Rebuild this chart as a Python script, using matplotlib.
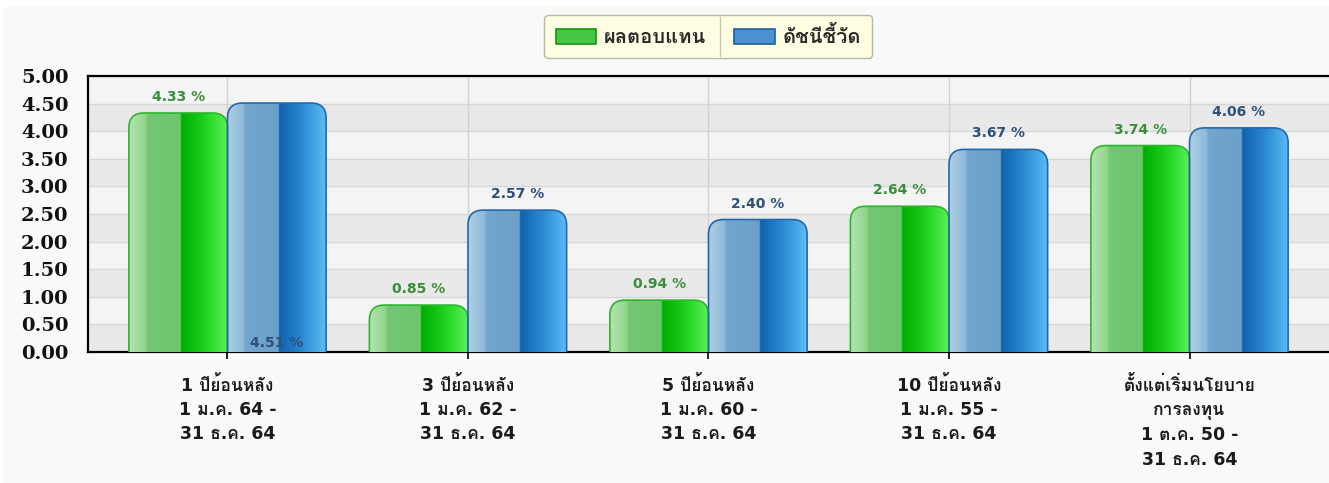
import numpy as np
import matplotlib
matplotlib.use('Agg')
import matplotlib.pyplot as plt
from matplotlib import font_manager
from matplotlib.ft2font import FT2Font
from matplotlib.patches import FancyBboxPatch, Patch, Rectangle
from matplotlib.lines import Line2D
from matplotlib.colors import LinearSegmentedColormap

categories = [
    '1 ปีย้อนหลัง\n1 ม.ค. 64 -\n31 ธ.ค. 64',
    '3 ปีย้อนหลัง\n1 ม.ค. 62 -\n31 ธ.ค. 64',
    '5 ปีย้อนหลัง\n1 ม.ค. 60 -\n31 ธ.ค. 64',
    '10 ปีย้อนหลัง\n1 ม.ค. 55 -\n31 ธ.ค. 64',
    'ตั้งแต่เริ่มนโยบาย\nการลงทุน\n1 ต.ค. 50 -\n31 ธ.ค. 64',
]
fund_returns = [4.33, 0.85, 0.94, 2.64, 3.74]
benchmark = [4.51, 2.57, 2.40, 3.67, 4.06]
series_names = ['ผลตอบแทน', 'ดัชนีชี้วัด']
yticks = [0.0, 0.5, 1.0, 1.5, 2.0, 2.5, 3.0, 3.5, 4.0, 4.5, 5.0]


def find_thai_font():
    # first installed font that can draw Thai
    for f in font_manager.fontManager.ttflist:
        try:
            if 0x0E1C in FT2Font(f.fname).get_charmap():
                return f.name
        except Exception:
            pass
    return 'DejaVu Sans'


thai = find_thai_font()
fam = ['DejaVu Sans', thai]

green_cmap = LinearSegmentedColormap.from_list('g', [
    (0.0, '#b6e4b2'), (0.17, '#8ed48a'), (0.18, '#74c874'), (0.52, '#6cc66c'),
    (0.53, '#00ad00'), (0.75, '#1ccf1c'), (1.0, '#58f458')])
blue_cmap = LinearSegmentedColormap.from_list('b', [
    (0.0, '#b0cfe6'), (0.17, '#8cb8d8'), (0.18, '#74a6cf'), (0.52, '#6aa0c9'),
    (0.53, '#0f62ac'), (0.75, '#2a88d0'), (1.0, '#5cbcf6')])


def gradient_bar(ax, rect, cmap, edge, px_x, px_y):
    x, w, h = rect.get_x(), rect.get_width(), rect.get_height()
    r = 15.0 / px_x
    box = FancyBboxPatch((x, -0.4), w, h + 0.4,
                         boxstyle=f'round,pad=0,rounding_size={r}',
                         mutation_aspect=px_x / px_y,
                         facecolor='none', edgecolor=edge, lw=1.2, zorder=4)
    ax.add_patch(box)
    img = ax.imshow(np.linspace(0, 1, 256).reshape(1, -1), cmap=cmap,
                    extent=(x, x + w, -0.4, h), aspect='auto', zorder=3,
                    interpolation='bilinear')
    img.set_clip_path(box)


fig = plt.figure(figsize=(13.29, 4.83), dpi=100)
fig.patch.set_facecolor('white')
fig.patches.append(Rectangle((3 / 1329, 0), 1, 1 - 7 / 483, transform=fig.transFigure,
                             facecolor='#f9f9f9', edgecolor='none', zorder=-10))

left, bottom = 88 / 1329, 1 - 352 / 483
ax = fig.add_axes([left, bottom, 1 - left, (352 - 76) / 483])
ax.set_facecolor('#f4f4f4')

x = np.arange(len(categories))
width = 0.41
xlim = (-0.58, 4.58)
ylim = (0, 5)
px_x = 1241 / (xlim[1] - xlim[0])
px_y = 276 / (ylim[1] - ylim[0])

# alternating bands and grid
for y0 in yticks[:-1:2]:
    ax.axhspan(y0, y0 + 0.5, color='#e9e9e9', zorder=0, lw=0)
for y0 in yticks[1:]:
    ax.axhline(y0, color='#d6d6d6', lw=1, zorder=1)
for xc in x:
    ax.axvline(xc, color='#d2d2d2', lw=1, zorder=1)

bars_g = ax.bar(x - width / 2, fund_returns, width, color='none', zorder=2)
bars_b = ax.bar(x + width / 2, benchmark, width, color='none', zorder=2)
for rect in bars_g:
    gradient_bar(ax, rect, green_cmap, '#2db52d', px_x, px_y)
for rect in bars_b:
    gradient_bar(ax, rect, blue_cmap, '#2468aa', px_x, px_y)

for i, v in enumerate(fund_returns):
    ax.annotate(f'{v:.2f} %', (x[i] - width / 2, v), xytext=(0, 11.5),
                textcoords='offset points', ha='center', va='center',
                fontsize=10, fontweight='bold', color='#3a8e3a', zorder=6)
for i, v in enumerate(benchmark):
    # the first benchmark label sits at the bottom of its bar in the original
    ypos = 0 if i == 0 else v
    off = 6.5 if i == 0 else 11.5
    ax.annotate(f'{v:.2f} %', (x[i] + width / 2, ypos), xytext=(0, off),
                textcoords='offset points', ha='center', va='center',
                fontsize=10, fontweight='bold', color='#2c5078', zorder=6)

ax.set_xlim(*xlim)
ax.set_ylim(*ylim)
ax.set_yticks(yticks)
ax.set_yticklabels([f'{t:.2f}' for t in yticks], fontfamily='DejaVu Serif',
                   fontweight='bold', fontsize=14, color='#111111')
ax.set_xticks(x)
ax.set_xticklabels(categories, fontfamily=fam, fontweight='bold', fontsize=12.5,
                   color='#1a1a1a', linespacing=1.45, va='top')
ax.tick_params(axis='y', length=0, pad=14)
ax.tick_params(axis='x', length=5, width=1.2, color='black', pad=12)

for s in ['left', 'bottom', 'top']:
    ax.spines[s].set_color('black')
    ax.spines[s].set_linewidth(1.6)
ax.spines['right'].set_visible(False)

handles = [Patch(facecolor='#45c845', edgecolor='#139a13', lw=1.2),
           Patch(facecolor='#4a92d2', edgecolor='#1f5f9f', lw=1.2)]
leg = fig.legend(handles, series_names, loc='center', bbox_to_anchor=(0.533, 0.924),
                 ncol=2, frameon=True, fancybox=True, facecolor='#fffee2',
                 edgecolor='#b9b9a0', framealpha=1, handlelength=2.0,
                 handleheight=0.8, handletextpad=0.4, columnspacing=1.4,
                 borderpad=0.55, prop={'family': fam, 'weight': 'bold', 'size': 14.5})
for t in leg.get_texts():
    t.set_color('#2a2a2a')

# thin divider between the two legend entries
fig.canvas.draw()
inv = fig.transFigure.inverted()
t0 = leg.get_texts()[0].get_window_extent()
h1 = leg.legend_handles[1].get_window_extent()
fb = leg.get_frame().get_window_extent()
xm = inv.transform(((t0.x1 + h1.x0) / 2, 0))[0]
y0f = inv.transform((0, fb.y0))[1]
y1f = inv.transform((0, fb.y1))[1]
fig.add_artist(Line2D([xm, xm], [y0f + 0.004, y1f - 0.004], transform=fig.transFigure,
                      color='#c8c8b0', lw=1, zorder=10))

fig.savefig('out.png', dpi=100)
